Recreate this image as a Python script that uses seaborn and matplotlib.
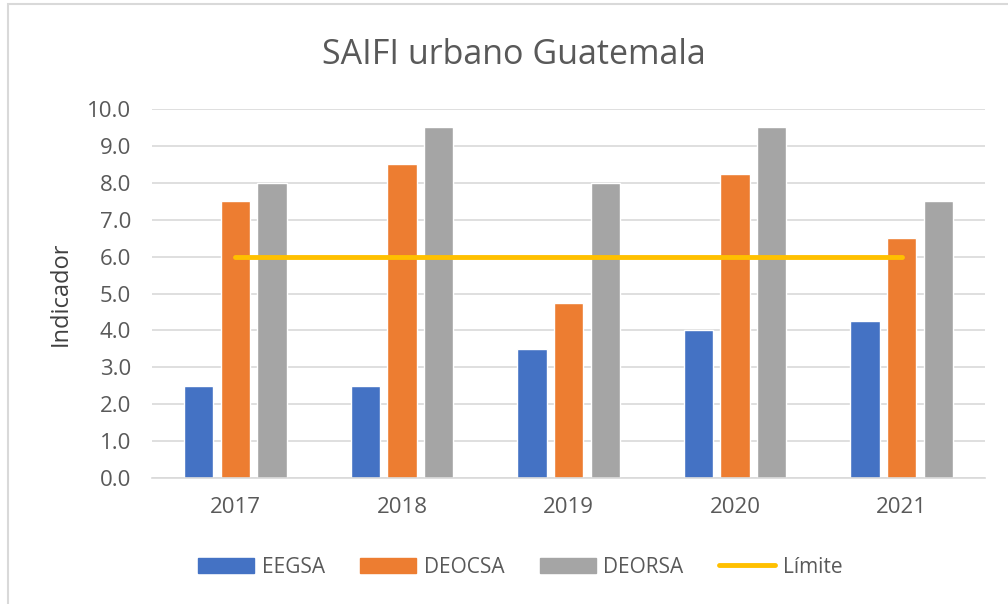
import pandas as pd
import numpy as np
import matplotlib
matplotlib.use('Agg')
import matplotlib.pyplot as plt
import seaborn as sns
from matplotlib.patches import Rectangle
from matplotlib.lines import Line2D

# Data
years = ['2017', '2018', '2019', '2020', '2021']
eegsa = [2.5, 2.5, 3.5, 4.0, 4.25]
deocsa = [7.5, 8.5, 4.75, 8.25, 6.5]
deorsa = [8.0, 9.5, 8.0, 9.5, 7.5]
limite = [6.0, 6.0, 6.0, 6.0, 6.0]
series = ['EEGSA', 'DEOCSA', 'DEORSA']
colors = ['#4472C4', '#ED7D31', '#A5A5A5']

df = pd.DataFrame({'Año': years, 'EEGSA': eegsa, 'DEOCSA': deocsa, 'DEORSA': deorsa})
df = df.melt(id_vars='Año', var_name='Empresa', value_name='Indicador')

sns.set_style('white')
plt.rcParams['font.family'] = ['Open Sans', 'DejaVu Sans']

fig = plt.figure(figsize=(10.08, 6.04), dpi=100)
ax = fig.add_axes([0.1508, 0.2086, 0.8264, 0.6109])

sns.barplot(data=df, x='Año', y='Indicador', hue='Empresa', hue_order=series,
            palette=colors, width=0.66, gap=0.2, saturation=1, ax=ax, legend=False)
sns.lineplot(x=np.arange(len(years)), y=limite, color='#FFC000', linewidth=3.5, ax=ax)

ax.set_xlim(-0.5, 4.5)
ax.set_ylim(0, 10)
ax.set_yticks(np.arange(0, 10.5, 1.0))
ax.set_yticklabels([f'{v:.1f}' for v in np.arange(0, 10.5, 1.0)])
ax.yaxis.grid(True, color='#D9D9D9', linewidth=1.2)
ax.set_axisbelow(True)
for s in ['top', 'right', 'left']:
    ax.spines[s].set_visible(False)
ax.spines['bottom'].set_color('#D9D9D9')
ax.spines['bottom'].set_linewidth(1.2)
ax.tick_params(axis='both', length=0, labelsize=16, colors='#595959')
ax.tick_params(axis='y', pad=15)
ax.tick_params(axis='x', pad=14)
ax.set_xlabel('')
ax.set_ylabel('Indicador', fontsize=17, color='#404040')
ax.yaxis.set_label_coords(-0.095, 0.5)
fig.suptitle('SAIFI urbano Guatemala', fontsize=24.5, color='#595959', x=0.51, y=0.909, va='center')

handles = [Rectangle((0, 0), 1, 1, color=c) for c in colors]
handles.append(Line2D([0], [0], color='#FFC000', linewidth=3.5))
fig.legend(handles, series + ['Límite'], loc='center', bbox_to_anchor=(0.516, 0.061),
           ncol=4, frameon=False, fontsize=15, handlelength=2.7, handleheight=0.7,
           columnspacing=1.7, handletextpad=0.35, labelcolor='#595959')

# light border around the chart area
fig.patches.append(Rectangle((0.008, -0.02), 1.1, 1.013, transform=fig.transFigure,
                             fill=False, edgecolor='#D9D9D9', linewidth=1.5))

fig.savefig('out.png', dpi=100)
